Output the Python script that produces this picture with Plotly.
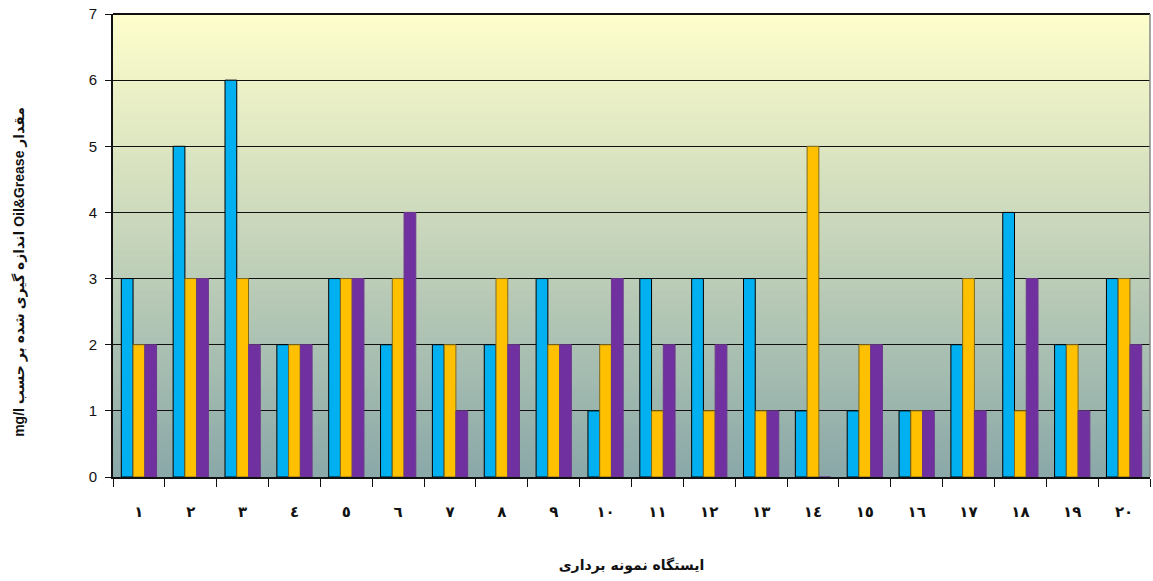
import plotly.graph_objects as go

# Sampling stations (Arabic-Indic numerals)
stations = ["١", "٢", "٣", "٤", "٥", "٦", "٧", "٨", "٩", "١٠",
            "١١", "١٢", "١٣", "١٤", "١٥", "١٦", "١٧", "١٨", "١٩", "٢٠"]

# Oil & Grease (mg/l), three sampling rounds per station
round_a = [3, 5, 6, 2, 3, 2, 2, 2, 3, 1, 3, 3, 3, 1, 1, 1, 2, 4, 2, 3]
round_b = [2, 3, 3, 2, 3, 3, 2, 3, 2, 2, 1, 1, 1, 5, 2, 1, 3, 1, 2, 3]
round_c = [2, 3, 2, 2, 3, 4, 1, 2, 2, 3, 2, 2, 1, 0, 2, 1, 1, 3, 1, 2]

y_ticks = [0, 1, 2, 3, 4, 5, 6, 7]

series = [
    (round_a, "#00B0F0", "#000000"),
    (round_b, "#FFC000", "#7F6A20"),
    (round_c, "#7030A0", "#6A3A8A"),
]

fig = go.Figure()
for vals, color, edge in series:
    fig.add_trace(go.Bar(
        x=stations, y=vals,
        marker=dict(color=color, line=dict(color=edge, width=1)),
        showlegend=False,
    ))

# vertical gradient behind the plot (light yellow to grey-teal)
top = (255, 255, 204)
bottom = (138, 168, 168)
n = 80
shapes = []
for i in range(n):
    t = (i + 0.5) / n
    c = tuple(round(top[k] + (bottom[k] - top[k]) * t) for k in range(3))
    shapes.append(dict(
        type="rect", xref="x domain", yref="y domain",
        x0=0, x1=1, y0=1 - (i + 1) / n, y1=1 - i / n + 0.002,
        fillcolor="rgb(%d,%d,%d)" % c, line=dict(width=0), layer="below",
    ))
# frame: dark top edge, grey right edge
shapes.append(dict(type="line", xref="x domain", yref="y domain",
                   x0=0, x1=1, y0=1, y1=1, line=dict(color="#111", width=2)))
shapes.append(dict(type="line", xref="x domain", yref="y domain",
                   x0=1, x1=1, y0=0, y1=1, line=dict(color="#888", width=1.5)))

fig.update_layout(
    width=1153, height=581,
    margin=dict(l=113, r=3, t=14, b=104),
    paper_bgcolor="white",
    plot_bgcolor="#C4D3BA",
    barmode="group",
    bargap=0.32,
    bargroupgap=0,
    shapes=shapes,
    font=dict(family="Liberation Sans, Arial, DejaVu Sans", color="#111"),
    xaxis=dict(
        tickson="boundaries", ticks="outside", ticklen=8, tickcolor="#111",
        tickfont=dict(size=15, family="DejaVu Sans", weight="bold"),
        ticklabelstandoff=20,
        showline=True, linecolor="#111", linewidth=2,
        showgrid=False,
        title=dict(text="<b>ایستگاه نمونه برداری</b>", standoff=40,
                   font=dict(size=14, family="DejaVu Sans")),
    ),
    yaxis=dict(
        range=[0, 7], tickvals=y_ticks, ticks="outside", ticklen=6,
        tickcolor="#111", tickfont=dict(size=15),
        ticklabelstandoff=5,
        showline=True, linecolor="#111", linewidth=2,
        showgrid=True, gridcolor="#111", gridwidth=1,
        zeroline=False,
    ),
    annotations=[dict(
        text="<b>\u202bمقدار Oil&Grease اندازه گیری شده بر حسب mg/l\u202c</b>",
        textangle=-90, xref="paper", yref="paper",
        x=-0.0897, y=0.443, xanchor="center", yanchor="middle",
        showarrow=False,
        font=dict(size=14, family="Liberation Sans, DejaVu Sans", color="#111"),
    )],
)

fig.write_html("out.html")
